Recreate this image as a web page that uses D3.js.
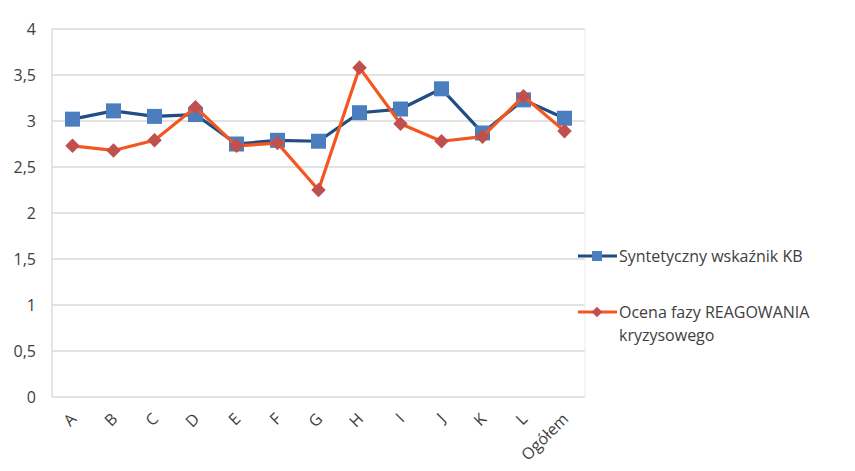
<!DOCTYPE html>
<html><head><meta charset="utf-8">
<script src="https://cdn.jsdelivr.net/npm/d3@7/dist/d3.min.js"></script>
<style>body{margin:0;background:#fff}svg{display:block}text{font-family:"Open Sans","Liberation Sans",sans-serif;fill:#404040}</style>
</head><body>
<svg id="c" width="855" height="471"></svg>
<script>
const categories = ["A","B","C","D","E","F","G","H","I","J","K","L","Ogółem"];
const seriesNames = ["Syntetyczny wskaźnik KB", "Ocena fazy REAGOWANIA kryzysowego"];
const syntetyczny = [3.02,3.11,3.05,3.07,2.75,2.79,2.78,3.09,3.13,3.35,2.87,3.23,3.03];
const ocena = [2.73,2.68,2.79,3.15,2.73,2.76,2.25,3.58,2.97,2.78,2.83,3.27,2.89];
const yTicks = [0,0.5,1,1.5,2,2.5,3,3.5,4];

const svg = d3.select("#c");
const L = 52, R = 585, T = 29, B = 397;
const x = d3.scaleBand().domain(categories).range([L, R]);
const y = d3.scaleLinear().domain([0,4]).range([B, T]);
const fmt = v => String(v).replace(".", ",");

// gridlines
svg.append("g").selectAll("line").data(yTicks).join("line")
  .attr("x1", L).attr("x2", R).attr("y1", d => y(d)).attr("y2", d => y(d))
  .attr("stroke", "#d9d9d9").attr("stroke-width", 1.3);
svg.append("line").attr("x1", L).attr("x2", L).attr("y1", T).attr("y2", B).attr("stroke", "#d9d9d9").attr("stroke-width", 1.3);
svg.append("line").attr("x1", R).attr("x2", R).attr("y1", T).attr("y2", B).attr("stroke", "#ececec").attr("stroke-width", 1);

// y labels
svg.append("g").selectAll("text").data(yTicks).join("text")
  .attr("x", 36).attr("y", d => y(d)).attr("dy", "0.35em")
  .attr("text-anchor", "end").attr("font-size", 16).text(fmt);

// x labels
svg.append("g").selectAll("text").data(categories).join("text")
  .attr("text-anchor", "end").attr("font-size", 16)
  .attr("transform", d => `translate(${x(d) + x.bandwidth()/2 + 1},${B + 19}) rotate(-45)`)
  .attr("dy", "0.35em").text(d => d);

const cx = d => x(d) + x.bandwidth()/2;
const line = d3.line().x((d,i) => cx(categories[i])).y(d => y(d));

// series 1
svg.append("path").datum(syntetyczny).attr("d", line).attr("fill", "none")
  .attr("stroke", "#1f4e84").attr("stroke-width", 3.2).attr("stroke-linejoin", "round");
svg.append("g").selectAll("rect").data(syntetyczny).join("rect")
  .attr("x", (d,i) => cx(categories[i]) - 7.5).attr("y", d => y(d) - 7.5)
  .attr("width", 15).attr("height", 15).attr("fill", "#4a7ebf");

// series 2
svg.append("path").datum(ocena).attr("d", line).attr("fill", "none")
  .attr("stroke", "#f5561f").attr("stroke-width", 3.2).attr("stroke-linejoin", "round");
const dia = d3.symbol().type(d3.symbolDiamond2).size(135);
svg.append("g").selectAll("path").data(ocena).join("path")
  .attr("d", dia).attr("transform", (d,i) => `translate(${cx(categories[i])},${y(d)})`)
  .attr("fill", "#c0504d");

// legend
const lg = svg.append("g");
lg.append("line").attr("x1", 578).attr("x2", 617).attr("y1", 256).attr("y2", 256).attr("stroke", "#1f4e84").attr("stroke-width", 3.2);
lg.append("rect").attr("x", 592).attr("y", 251).attr("width", 10).attr("height", 10).attr("fill", "#4a7ebf");
lg.append("text").attr("x", 619).attr("y", 256).attr("dy", "0.35em").attr("font-size", 16).text(seriesNames[0]);
lg.append("line").attr("x1", 578).attr("x2", 617).attr("y1", 312).attr("y2", 312).attr("stroke", "#f5561f").attr("stroke-width", 3.2);
lg.append("path").attr("d", d3.symbol().type(d3.symbolDiamond2).size(70)).attr("transform", "translate(597,312)").attr("fill", "#c0504d");
const t2 = lg.append("text").attr("x", 619).attr("y", 312).attr("dy", "0.35em").attr("font-size", 16);
t2.append("tspan").attr("x", 619).text("Ocena fazy REAGOWANIA");
t2.append("tspan").attr("x", 619).attr("dy", "1.45em").text("kryzysowego");
</script>
</body></html>
